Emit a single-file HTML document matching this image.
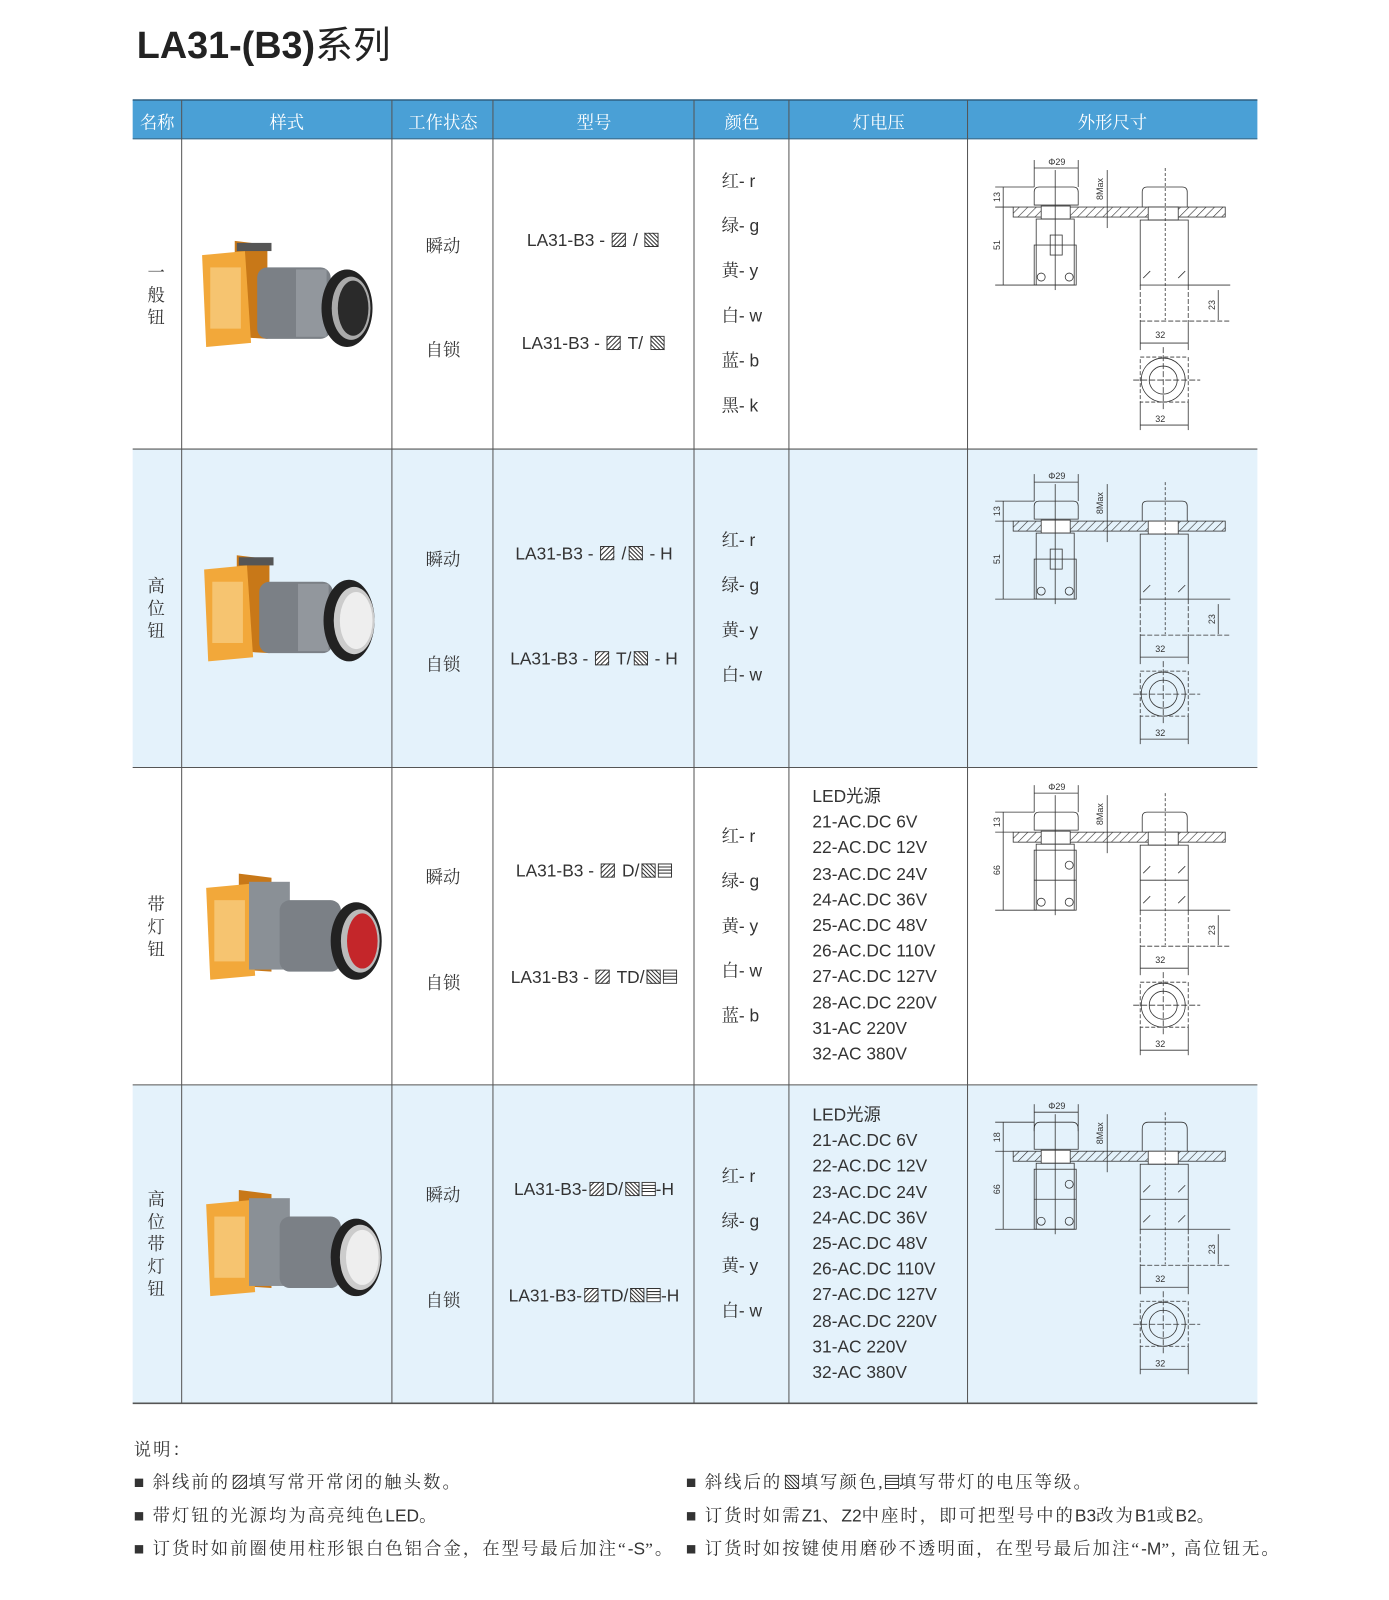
<!DOCTYPE html>
<html><head><meta charset="utf-8">
<style>
html,body{margin:0;padding:0;background:#fff;}
body{width:1389px;height:1600px;overflow:hidden;position:relative;}
#c{position:absolute;left:0;top:0;width:1361px;height:1568px;transform:scale(1.0206);transform-origin:0 0;}
.t{position:absolute;white-space:nowrap;color:#333;}
.s{font-family:"Liberation Serif","Noto Serif CJK SC",serif;}
.a{font-family:"Liberation Sans","Noto Sans CJK SC",sans-serif;}
.h{color:#fff;font-size:17px;transform:translateX(-50%);top:106px;}
.m{font-size:17px;transform:translateX(-50%);}
.cl{font-size:17px;}
.cl b{font-family:"Liberation Sans",sans-serif;font-weight:normal;}
.v{font-size:17px;line-height:25.2px;}
.hb{display:inline-block;width:14px;height:14px;vertical-align:-1px;margin:0 2px;}
.n{font-size:17px;letter-spacing:2px;}
.n .a{letter-spacing:0;}
</style></head><body>
<div id="c">
<svg width="1361" height="1568" style="position:absolute;left:0;top:0">
<defs>
<pattern id="hp" width="6" height="6" patternUnits="userSpaceOnUse" patternTransform="rotate(45)"><line x1="0" y1="0" x2="0" y2="6" stroke="#333" stroke-width="1.2"/></pattern>
</defs>
<rect x="130" y="440" width="1102" height="312" fill="#e4f2fb"/>
<rect x="130" y="1063" width="1102" height="312" fill="#e4f2fb"/>
<rect x="130" y="98" width="1102" height="38" fill="#4aa0d6"/>
<line x1="130" y1="98" x2="1232" y2="98" stroke="#2e5f80" stroke-width="1.5"/>
<line x1="130" y1="136" x2="1232" y2="136" stroke="#3a6a8a" stroke-width="1.2"/>
<g stroke="#555" stroke-width="1">
<line x1="130" y1="440" x2="1232" y2="440"/>
<line x1="130" y1="752" x2="1232" y2="752"/>
<line x1="130" y1="1063" x2="1232" y2="1063"/>
<line x1="130" y1="1375" x2="1232" y2="1375" stroke-width="1.5"/>
<line x1="178" y1="98" x2="178" y2="1375"/>
<line x1="384" y1="98" x2="384" y2="1375"/>
<line x1="483" y1="98" x2="483" y2="1375"/>
<line x1="680" y1="98" x2="680" y2="1375"/>
<line x1="773" y1="98" x2="773" y2="1375"/>
<line x1="948" y1="98" x2="948" y2="1375"/>
</g>
<!-- photos -->
<g>
<polygon points="230,236 262,240 262,332 230,330" fill="#c87818"/>
<polygon points="198,250 240,246 246,336 202,340" fill="#f2a83a"/>
<rect x="206" y="262" width="30" height="60" fill="#f8d088" opacity="0.7"/>
<rect x="232" y="238" width="34" height="8" fill="#555"/>
<rect x="252" y="262" width="72" height="70" rx="10" fill="#7b8086"/>
<rect x="290" y="264" width="30" height="66" fill="#92979d"/>
</g>
<ellipse cx="340" cy="302" rx="25" ry="38" fill="#222"/><ellipse cx="344" cy="302" rx="19" ry="31" fill="#aaa"/><ellipse cx="346" cy="302" rx="15" ry="27" fill="#2a2a2a"/>
<g transform="translate(2,308)"><polygon points="230,236 262,240 262,332 230,330" fill="#c87818"/><polygon points="198,250 240,246 246,336 202,340" fill="#f2a83a"/><rect x="206" y="262" width="30" height="60" fill="#f8d088" opacity="0.7"/><rect x="232" y="238" width="34" height="8" fill="#555"/><rect x="252" y="262" width="72" height="70" rx="10" fill="#7b8086"/><rect x="290" y="264" width="30" height="66" fill="#92979d"/>
<ellipse cx="340" cy="300" rx="25" ry="40" fill="#222"/><ellipse cx="345" cy="300" rx="20" ry="33" fill="#ccc"/><ellipse cx="347" cy="300" rx="16" ry="28" fill="#eee"/></g>
<g transform="translate(4,620)"><polygon points="230,236 262,240 262,332 230,330" fill="#c87818"/><polygon points="198,250 240,246 246,336 202,340" fill="#f2a83a"/><rect x="206" y="262" width="30" height="60" fill="#f8d088" opacity="0.7"/><rect x="240" y="244" width="40" height="86" fill="#8a9096"/><rect x="270" y="262" width="60" height="70" rx="10" fill="#7b8086"/>
<ellipse cx="345" cy="302" rx="25" ry="38" fill="#222"/><ellipse cx="349" cy="302" rx="19" ry="31" fill="#bbb"/><ellipse cx="351" cy="302" rx="15" ry="27" fill="#c4262a"/></g>
<g transform="translate(4,930)"><polygon points="230,236 262,240 262,332 230,330" fill="#c87818"/><polygon points="198,250 240,246 246,336 202,340" fill="#f2a83a"/><rect x="206" y="262" width="30" height="60" fill="#f8d088" opacity="0.7"/><rect x="240" y="244" width="40" height="86" fill="#8a9096"/><rect x="270" y="262" width="60" height="70" rx="10" fill="#7b8086"/>
<ellipse cx="345" cy="302" rx="25" ry="38" fill="#222"/><ellipse cx="349" cy="302" rx="20" ry="32" fill="#ccc"/><ellipse cx="351" cy="302" rx="16" ry="27" fill="#eee"/></g>
<!-- drawings -->
<g transform="scale(0.98)">
<g transform="translate(950,140)">
<g stroke="#333" stroke-width="0.8" fill="none">
<line x1="84" y1="20" x2="84" y2="47"/><line x1="128" y1="20" x2="128" y2="47"/><line x1="84" y1="28" x2="128" y2="28"/>
<path d="M84,65 V52 Q84,47 89,47 H123 Q128,47 128,52 V65 Z"/>
<rect x="63" y="67" width="212" height="10" fill="url(#hp)"/>
<rect x="91" y="66" width="29" height="13" fill="#fff"/>
<rect x="86" y="79" width="38" height="66"/>
<rect x="84" y="105" width="42" height="40"/>
<rect x="100" y="95" width="12" height="20"/>
<circle cx="91" cy="137" r="4"/><circle cx="119" cy="137" r="4"/>
<line x1="105" y1="30" x2="105" y2="150"/>
<line x1="45" y1="47" x2="84" y2="47"/><line x1="45" y1="67" x2="63" y2="67"/><line x1="45" y1="145" x2="86" y2="145"/>
<line x1="53" y1="47" x2="53" y2="67"/><line x1="53" y1="67" x2="53" y2="145"/>
<line x1="157" y1="30" x2="157" y2="88"/>
<path d="M192,67 V52 Q192,47 197,47 H232 Q237,47 237,52 V67"/>
<rect x="198" y="67" width="30" height="13" fill="#fff"/>
<rect x="190" y="80" width="48" height="65"/>
<line x1="193" y1="138" x2="200" y2="131"/><line x1="228" y1="138" x2="235" y2="131"/>
<line x1="215" y1="28" x2="215" y2="180" stroke-dasharray="3,2"/>
<line x1="190" y1="145" x2="190" y2="182" stroke-dasharray="5,2"/><line x1="238" y1="145" x2="238" y2="182" stroke-dasharray="5,2"/>
<line x1="238" y1="145" x2="280" y2="145"/><line x1="190" y1="181" x2="280" y2="181" stroke-dasharray="5,2"/>
<line x1="268" y1="150" x2="268" y2="180"/>
<line x1="190" y1="182" x2="190" y2="210"/><line x1="238" y1="182" x2="238" y2="210"/><line x1="190" y1="203" x2="238" y2="203"/>
<rect x="190" y="217" width="48" height="45" stroke-dasharray="4,2"/>
<circle cx="213" cy="240" r="22"/><circle cx="213" cy="240" r="14"/>
<line x1="183" y1="240" x2="250" y2="240" stroke-dasharray="6,2"/><line x1="213" y1="207" x2="213" y2="270" stroke-dasharray="6,2"/>
<line x1="190" y1="262" x2="190" y2="290"/><line x1="238" y1="262" x2="238" y2="290"/><line x1="190" y1="285" x2="238" y2="285"/>
</g>
<g font-family="Liberation Sans" font-size="9" fill="#333">
<text x="98" y="25">Φ29</text><text x="205" y="198">32</text><text x="205" y="282">32</text>
<text transform="translate(50,62) rotate(-90)">13</text>
<text transform="translate(50,110) rotate(-90)">51</text>
<text transform="translate(153,60) rotate(-90)">8Max</text>
<text transform="translate(265,170) rotate(-90)">23</text>
</g>
</g>
<g transform="translate(950,454)">
<g stroke="#333" stroke-width="0.8" fill="none">
<line x1="84" y1="20" x2="84" y2="47"/><line x1="128" y1="20" x2="128" y2="47"/><line x1="84" y1="28" x2="128" y2="28"/>
<path d="M84,65 V52 Q84,47 89,47 H123 Q128,47 128,52 V65 Z"/><rect x="63" y="67" width="212" height="10" fill="url(#hp)"/><rect x="91" y="66" width="29" height="13" fill="#fff"/><rect x="86" y="79" width="38" height="66"/><rect x="84" y="105" width="42" height="40"/><rect x="100" y="95" width="12" height="20"/><circle cx="91" cy="137" r="4"/><circle cx="119" cy="137" r="4"/><line x1="105" y1="30" x2="105" y2="150"/><line x1="45" y1="47" x2="84" y2="47"/><line x1="45" y1="67" x2="63" y2="67"/><line x1="45" y1="145" x2="86" y2="145"/><line x1="53" y1="47" x2="53" y2="145"/><line x1="157" y1="30" x2="157" y2="88"/>
<path d="M192,67 V52 Q192,47 197,47 H232 Q237,47 237,52 V67"/><rect x="198" y="67" width="30" height="13" fill="#fff"/><rect x="190" y="80" width="48" height="65"/><line x1="193" y1="138" x2="200" y2="131"/><line x1="228" y1="138" x2="235" y2="131"/><line x1="215" y1="28" x2="215" y2="180" stroke-dasharray="3,2"/><line x1="190" y1="145" x2="190" y2="182" stroke-dasharray="5,2"/><line x1="238" y1="145" x2="238" y2="182" stroke-dasharray="5,2"/><line x1="238" y1="145" x2="280" y2="145"/><line x1="190" y1="181" x2="280" y2="181" stroke-dasharray="5,2"/><line x1="268" y1="150" x2="268" y2="180"/><line x1="190" y1="182" x2="190" y2="210"/><line x1="238" y1="182" x2="238" y2="210"/><line x1="190" y1="203" x2="238" y2="203"/><rect x="190" y="217" width="48" height="45" stroke-dasharray="4,2"/><circle cx="213" cy="240" r="22"/><circle cx="213" cy="240" r="14"/><line x1="183" y1="240" x2="250" y2="240" stroke-dasharray="6,2"/><line x1="213" y1="207" x2="213" y2="270" stroke-dasharray="6,2"/><line x1="190" y1="262" x2="190" y2="290"/><line x1="238" y1="262" x2="238" y2="290"/><line x1="190" y1="285" x2="238" y2="285"/>
</g>
<g font-family="Liberation Sans" font-size="9" fill="#333"><text x="98" y="25">Φ29</text><text x="205" y="198">32</text><text x="205" y="282">32</text><text transform="translate(50,62) rotate(-90)">13</text><text transform="translate(50,110) rotate(-90)">51</text><text transform="translate(153,60) rotate(-90)">8Max</text><text transform="translate(265,170) rotate(-90)">23</text></g>
</g>
<g transform="translate(950,765)">
<g stroke="#333" stroke-width="0.8" fill="none">
<line x1="84" y1="20" x2="84" y2="47"/><line x1="128" y1="20" x2="128" y2="47"/><line x1="84" y1="28" x2="128" y2="28"/>
<path d="M84,65 V52 Q84,47 89,47 H123 Q128,47 128,52 V65 Z"/><rect x="63" y="67" width="212" height="10" fill="url(#hp)"/><rect x="91" y="66" width="29" height="13" fill="#fff"/><rect x="86" y="79" width="38" height="66"/><rect x="84" y="85" width="42" height="60"/><line x1="84" y1="115" x2="126" y2="115"/><circle cx="91" cy="137" r="4"/><circle cx="119" cy="137" r="4"/><circle cx="119" cy="100" r="4"/><line x1="105" y1="30" x2="105" y2="150"/><line x1="45" y1="47" x2="84" y2="47"/><line x1="45" y1="67" x2="63" y2="67"/><line x1="45" y1="145" x2="86" y2="145"/><line x1="53" y1="47" x2="53" y2="145"/><line x1="157" y1="30" x2="157" y2="88"/>
<path d="M192,67 V52 Q192,47 197,47 H232 Q237,47 237,52 V67"/><rect x="198" y="67" width="30" height="13" fill="#fff"/><rect x="190" y="80" width="48" height="65"/><line x1="190" y1="115" x2="238" y2="115"/><line x1="193" y1="108" x2="200" y2="101"/><line x1="228" y1="108" x2="235" y2="101"/><line x1="193" y1="138" x2="200" y2="131"/><line x1="228" y1="138" x2="235" y2="131"/><line x1="215" y1="28" x2="215" y2="180" stroke-dasharray="3,2"/><line x1="190" y1="145" x2="190" y2="182" stroke-dasharray="5,2"/><line x1="238" y1="145" x2="238" y2="182" stroke-dasharray="5,2"/><line x1="238" y1="145" x2="280" y2="145"/><line x1="190" y1="181" x2="280" y2="181" stroke-dasharray="5,2"/><line x1="268" y1="150" x2="268" y2="180"/><line x1="190" y1="182" x2="190" y2="210"/><line x1="238" y1="182" x2="238" y2="210"/><line x1="190" y1="203" x2="238" y2="203"/><rect x="190" y="217" width="48" height="45" stroke-dasharray="4,2"/><circle cx="213" cy="240" r="22"/><circle cx="213" cy="240" r="14"/><line x1="183" y1="240" x2="250" y2="240" stroke-dasharray="6,2"/><line x1="213" y1="207" x2="213" y2="270" stroke-dasharray="6,2"/><line x1="190" y1="262" x2="190" y2="290"/><line x1="238" y1="262" x2="238" y2="290"/><line x1="190" y1="285" x2="238" y2="285"/>
</g>
<g font-family="Liberation Sans" font-size="9" fill="#333"><text x="98" y="25">Φ29</text><text x="205" y="198">32</text><text x="205" y="282">32</text><text transform="translate(50,62) rotate(-90)">13</text><text transform="translate(50,110) rotate(-90)">66</text><text transform="translate(153,60) rotate(-90)">8Max</text><text transform="translate(265,170) rotate(-90)">23</text></g>
</g>
<g transform="translate(950,1084)">
<g stroke="#333" stroke-width="0.8" fill="none">
<line x1="84" y1="20" x2="84" y2="47"/><line x1="128" y1="20" x2="128" y2="47"/><line x1="84" y1="28" x2="128" y2="28"/>
<path d="M84,65 V45 Q84,38 90,38 H122 Q128,38 128,45 V65 Z"/><rect x="63" y="67" width="212" height="10" fill="url(#hp)"/><rect x="91" y="66" width="29" height="13" fill="#fff"/><rect x="86" y="79" width="38" height="66"/><rect x="84" y="85" width="42" height="60"/><line x1="84" y1="115" x2="126" y2="115"/><circle cx="91" cy="137" r="4"/><circle cx="119" cy="137" r="4"/><circle cx="119" cy="100" r="4"/><line x1="105" y1="30" x2="105" y2="150"/><line x1="45" y1="38" x2="84" y2="38"/><line x1="45" y1="67" x2="63" y2="67"/><line x1="45" y1="145" x2="86" y2="145"/><line x1="53" y1="38" x2="53" y2="145"/><line x1="157" y1="30" x2="157" y2="88"/>
<path d="M192,67 V45 Q192,38 198,38 H231 Q237,38 237,45 V67"/><rect x="198" y="67" width="30" height="13" fill="#fff"/><rect x="190" y="80" width="48" height="65"/><line x1="190" y1="115" x2="238" y2="115"/><line x1="193" y1="108" x2="200" y2="101"/><line x1="228" y1="108" x2="235" y2="101"/><line x1="193" y1="138" x2="200" y2="131"/><line x1="228" y1="138" x2="235" y2="131"/><line x1="215" y1="28" x2="215" y2="180" stroke-dasharray="3,2"/><line x1="190" y1="145" x2="190" y2="182" stroke-dasharray="5,2"/><line x1="238" y1="145" x2="238" y2="182" stroke-dasharray="5,2"/><line x1="238" y1="145" x2="280" y2="145"/><line x1="190" y1="181" x2="280" y2="181" stroke-dasharray="5,2"/><line x1="268" y1="150" x2="268" y2="180"/><line x1="190" y1="182" x2="190" y2="210"/><line x1="238" y1="182" x2="238" y2="210"/><line x1="190" y1="203" x2="238" y2="203"/><rect x="190" y="217" width="48" height="45" stroke-dasharray="4,2"/><circle cx="213" cy="240" r="22"/><circle cx="213" cy="240" r="14"/><line x1="183" y1="240" x2="250" y2="240" stroke-dasharray="6,2"/><line x1="213" y1="207" x2="213" y2="270" stroke-dasharray="6,2"/><line x1="190" y1="262" x2="190" y2="290"/><line x1="238" y1="262" x2="238" y2="290"/><line x1="190" y1="285" x2="238" y2="285"/>
</g>
<g font-family="Liberation Sans" font-size="9" fill="#333"><text x="98" y="25">Φ29</text><text x="205" y="198">32</text><text x="205" y="282">32</text><text transform="translate(50,58) rotate(-90)">18</text><text transform="translate(50,110) rotate(-90)">66</text><text transform="translate(153,60) rotate(-90)">8Max</text><text transform="translate(265,170) rotate(-90)">23</text></g>
</g>
</g>
</svg>

<div class="t a" style="left:134px;top:14px;font-size:37px;font-weight:bold;color:#222;">LA31-(B3)<span style="font-family:'Noto Sans CJK SC',sans-serif;font-weight:normal;">系列</span></div>

<div class="t s h" style="left:154px">名称</div>
<div class="t s h" style="left:281px">样式</div>
<div class="t s h" style="left:434px">工作状态</div>
<div class="t s h" style="left:582px">型号</div>
<div class="t s h" style="left:727px">颜色</div>
<div class="t s h" style="left:861px">灯电压</div>
<div class="t s h" style="left:1090px">外形尺寸</div>

<div class="t s" style="left:144px;top:257px;font-size:17px;line-height:22px;width:18px;text-align:center;">一<br>般<br>钮</div>
<div class="t s" style="left:144px;top:564px;font-size:17px;line-height:22px;width:18px;text-align:center;">高<br>位<br>钮</div>
<div class="t s" style="left:144px;top:876px;font-size:17px;line-height:22px;width:18px;text-align:center;">带<br>灯<br>钮</div>
<div class="t s" style="left:144px;top:1165px;font-size:17px;line-height:22px;width:18px;text-align:center;">高<br>位<br>带<br>灯<br>钮</div>

<div class="t s m" style="left:434px;top:227px">瞬动</div>
<div class="t s m" style="left:434px;top:329px">自锁</div>
<div class="t s m" style="left:434px;top:534px">瞬动</div>
<div class="t s m" style="left:434px;top:637px">自锁</div>
<div class="t s m" style="left:434px;top:845px">瞬动</div>
<div class="t s m" style="left:434px;top:949px">自锁</div>
<div class="t s m" style="left:434px;top:1157px">瞬动</div>
<div class="t s m" style="left:434px;top:1260px">自锁</div>

<div class="t a m" style="left:582px;top:226px">LA31-B3 - <svg class="hb" viewBox="0 0 14 14"><rect x=".5" y=".5" width="13" height="13" fill="#fff" stroke="#333"/><path d="M0,5 5,0 M0,10 10,0 M1,14 14,1 M5,14 14,5 M10,14 14,10" stroke="#333"/></svg> / <svg class="hb" viewBox="0 0 14 14"><rect x=".5" y=".5" width="13" height="13" fill="#fff" stroke="#333"/><path d="M0,4 10,14 M0,0 14,14 M4,0 14,10 M0,8 6,14 M8,0 14,6" stroke="#333"/></svg></div>
<div class="t a m" style="left:582px;top:327px">LA31-B3 - <svg class="hb" viewBox="0 0 14 14"><rect x=".5" y=".5" width="13" height="13" fill="#fff" stroke="#333"/><path d="M0,5 5,0 M0,10 10,0 M1,14 14,1 M5,14 14,5 M10,14 14,10" stroke="#333"/></svg> T/ <svg class="hb" viewBox="0 0 14 14"><rect x=".5" y=".5" width="13" height="13" fill="#fff" stroke="#333"/><path d="M0,4 10,14 M0,0 14,14 M4,0 14,10 M0,8 6,14 M8,0 14,6" stroke="#333"/></svg></div>
<div class="t a m" style="left:582px;top:533px">LA31-B3 - <svg class="hb" viewBox="0 0 14 14"><rect x=".5" y=".5" width="13" height="13" fill="#fff" stroke="#333"/><path d="M0,5 5,0 M0,10 10,0 M1,14 14,1 M5,14 14,5 M10,14 14,10" stroke="#333"/></svg> /<svg class="hb" viewBox="0 0 14 14"><rect x=".5" y=".5" width="13" height="13" fill="#fff" stroke="#333"/><path d="M0,4 10,14 M0,0 14,14 M4,0 14,10 M0,8 6,14 M8,0 14,6" stroke="#333"/></svg> - H</div>
<div class="t a m" style="left:582px;top:636px">LA31-B3 - <svg class="hb" viewBox="0 0 14 14"><rect x=".5" y=".5" width="13" height="13" fill="#fff" stroke="#333"/><path d="M0,5 5,0 M0,10 10,0 M1,14 14,1 M5,14 14,5 M10,14 14,10" stroke="#333"/></svg> T/<svg class="hb" viewBox="0 0 14 14"><rect x=".5" y=".5" width="13" height="13" fill="#fff" stroke="#333"/><path d="M0,4 10,14 M0,0 14,14 M4,0 14,10 M0,8 6,14 M8,0 14,6" stroke="#333"/></svg> - H</div>
<div class="t a m" style="left:582px;top:844px">LA31-B3 - <svg class="hb" viewBox="0 0 14 14"><rect x=".5" y=".5" width="13" height="13" fill="#fff" stroke="#333"/><path d="M0,5 5,0 M0,10 10,0 M1,14 14,1 M5,14 14,5 M10,14 14,10" stroke="#333"/></svg> D/<svg class="hb" viewBox="0 0 14 14"><rect x=".5" y=".5" width="13" height="13" fill="#fff" stroke="#333"/><path d="M0,4 10,14 M0,0 14,14 M4,0 14,10 M0,8 6,14 M8,0 14,6" stroke="#333"/></svg><svg class="hb" viewBox="0 0 14 14" style="margin:0"><rect x=".5" y=".5" width="13" height="13" fill="#fff" stroke="#333"/><path d="M0,3.5 14,3.5 M0,6.5 14,6.5 M0,9.5 14,9.5" stroke="#333"/></svg></div>
<div class="t a m" style="left:582px;top:948px">LA31-B3 - <svg class="hb" viewBox="0 0 14 14"><rect x=".5" y=".5" width="13" height="13" fill="#fff" stroke="#333"/><path d="M0,5 5,0 M0,10 10,0 M1,14 14,1 M5,14 14,5 M10,14 14,10" stroke="#333"/></svg> TD/<svg class="hb" viewBox="0 0 14 14"><rect x=".5" y=".5" width="13" height="13" fill="#fff" stroke="#333"/><path d="M0,4 10,14 M0,0 14,14 M4,0 14,10 M0,8 6,14 M8,0 14,6" stroke="#333"/></svg><svg class="hb" viewBox="0 0 14 14" style="margin:0"><rect x=".5" y=".5" width="13" height="13" fill="#fff" stroke="#333"/><path d="M0,3.5 14,3.5 M0,6.5 14,6.5 M0,9.5 14,9.5" stroke="#333"/></svg></div>
<div class="t a m" style="left:582px;top:1156px">LA31-B3-<svg class="hb" viewBox="0 0 14 14"><rect x=".5" y=".5" width="13" height="13" fill="#fff" stroke="#333"/><path d="M0,5 5,0 M0,10 10,0 M1,14 14,1 M5,14 14,5 M10,14 14,10" stroke="#333"/></svg>D/<svg class="hb" viewBox="0 0 14 14"><rect x=".5" y=".5" width="13" height="13" fill="#fff" stroke="#333"/><path d="M0,4 10,14 M0,0 14,14 M4,0 14,10 M0,8 6,14 M8,0 14,6" stroke="#333"/></svg><svg class="hb" viewBox="0 0 14 14" style="margin:0"><rect x=".5" y=".5" width="13" height="13" fill="#fff" stroke="#333"/><path d="M0,3.5 14,3.5 M0,6.5 14,6.5 M0,9.5 14,9.5" stroke="#333"/></svg>-H</div>
<div class="t a m" style="left:582px;top:1260px">LA31-B3-<svg class="hb" viewBox="0 0 14 14"><rect x=".5" y=".5" width="13" height="13" fill="#fff" stroke="#333"/><path d="M0,5 5,0 M0,10 10,0 M1,14 14,1 M5,14 14,5 M10,14 14,10" stroke="#333"/></svg>TD/<svg class="hb" viewBox="0 0 14 14"><rect x=".5" y=".5" width="13" height="13" fill="#fff" stroke="#333"/><path d="M0,4 10,14 M0,0 14,14 M4,0 14,10 M0,8 6,14 M8,0 14,6" stroke="#333"/></svg><svg class="hb" viewBox="0 0 14 14" style="margin:0"><rect x=".5" y=".5" width="13" height="13" fill="#fff" stroke="#333"/><path d="M0,3.5 14,3.5 M0,6.5 14,6.5 M0,9.5 14,9.5" stroke="#333"/></svg>-H</div>

<div class="t s cl" style="left:707px;top:156px;line-height:44px">红<b>- r</b><br>绿<b>- g</b><br>黄<b>- y</b><br>白<b>- w</b><br>蓝<b>- b</b><br>黑<b>- k</b></div>
<div class="t s cl" style="left:707px;top:508px;line-height:44px">红<b>- r</b><br>绿<b>- g</b><br>黄<b>- y</b><br>白<b>- w</b></div>
<div class="t s cl" style="left:707px;top:798px;line-height:44px">红<b>- r</b><br>绿<b>- g</b><br>黄<b>- y</b><br>白<b>- w</b><br>蓝<b>- b</b></div>
<div class="t s cl" style="left:707px;top:1131px;line-height:44px">红<b>- r</b><br>绿<b>- g</b><br>黄<b>- y</b><br>白<b>- w</b></div>

<div class="t a v" style="left:796px;top:768px">LED光源<br>21-AC.DC 6V<br>22-AC.DC 12V<br>23-AC.DC 24V<br>24-AC.DC 36V<br>25-AC.DC 48V<br>26-AC.DC 110V<br>27-AC.DC 127V<br>28-AC.DC 220V<br>31-AC 220V<br>32-AC 380V</div>
<div class="t a v" style="left:796px;top:1080px">LED光源<br>21-AC.DC 6V<br>22-AC.DC 12V<br>23-AC.DC 24V<br>24-AC.DC 36V<br>25-AC.DC 48V<br>26-AC.DC 110V<br>27-AC.DC 127V<br>28-AC.DC 220V<br>31-AC 220V<br>32-AC 380V</div>

<div class="t s n" style="left:131px;top:1406px">说明：</div>
<div class="t s n" style="left:131px;top:1438px">■ 斜线前的<svg class="hb" viewBox="0 0 14 14"><rect x=".5" y=".5" width="13" height="13" fill="#fff" stroke="#333"/><path d="M0,5 5,0 M0,10 10,0 M1,14 14,1 M5,14 14,5 M10,14 14,10" stroke="#333"/></svg>填写常开常闭的触头数。</div>
<div class="t s n" style="left:131px;top:1471px">■ 带灯钮的光源均为高亮纯色<span class="a">LED</span>。</div>
<div class="t s n" style="left:131px;top:1503px">■ 订货时如前圈使用柱形银白色铝合金，在型号最后加注“<span class="a">-S</span>”。</div>
<div class="t s n" style="left:672px;top:1438px">■ 斜线后的<svg class="hb" viewBox="0 0 14 14"><rect x=".5" y=".5" width="13" height="13" fill="#fff" stroke="#333"/><path d="M0,4 10,14 M0,0 14,14 M4,0 14,10 M0,8 6,14 M8,0 14,6" stroke="#333"/></svg>填写颜色,<svg class="hb" viewBox="0 0 14 14" style="margin:0"><rect x=".5" y=".5" width="13" height="13" fill="#fff" stroke="#333"/><path d="M0,3.5 14,3.5 M0,6.5 14,6.5 M0,9.5 14,9.5" stroke="#333"/></svg>填写带灯的电压等级。</div>
<div class="t s n" style="left:672px;top:1471px">■ 订货时如需<span class="a">Z1</span>、<span class="a">Z2</span>中座时，即可把型号中的<span class="a">B3</span>改为<span class="a">B1</span>或<span class="a">B2</span>。</div>
<div class="t s n" style="left:672px;top:1503px">■ 订货时如按键使用磨砂不透明面，在型号最后加注“<span class="a">-M</span>”, 高位钮无。</div>
</div>
</body></html>
